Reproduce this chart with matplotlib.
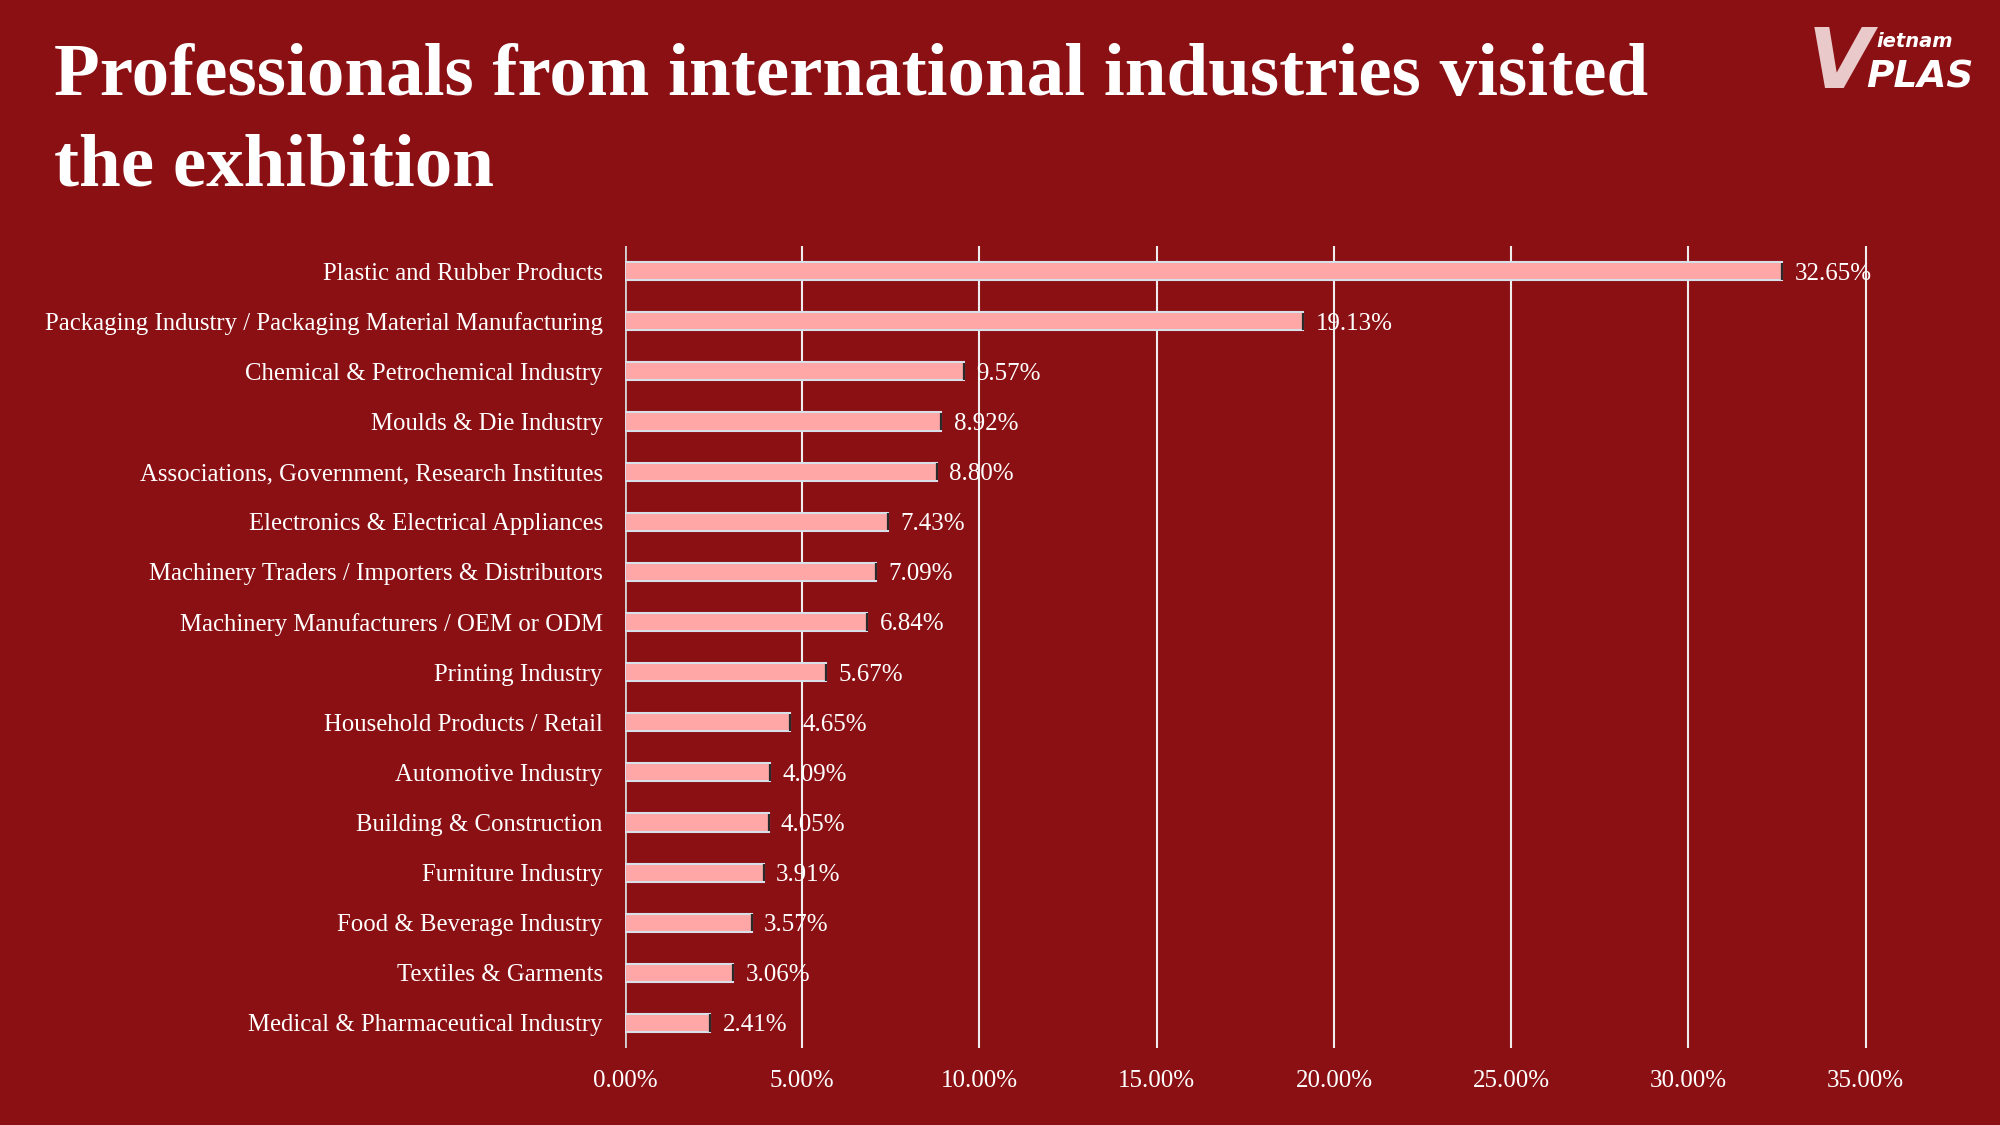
import matplotlib
matplotlib.use("Agg")
import matplotlib.pyplot as plt
from matplotlib.ticker import FuncFormatter

categories = [
    "Plastic and Rubber Products",
    "Packaging Industry / Packaging Material Manufacturing",
    "Chemical & Petrochemical Industry",
    "Moulds & Die Industry",
    "Associations, Government, Research Institutes",
    "Electronics & Electrical Appliances",
    "Machinery Traders / Importers & Distributors",
    "Machinery Manufacturers / OEM or ODM",
    "Printing Industry",
    "Household Products / Retail",
    "Automotive Industry",
    "Building & Construction",
    "Furniture Industry",
    "Food & Beverage Industry",
    "Textiles & Garments",
    "Medical & Pharmaceutical Industry",
]
values = [32.65, 19.13, 9.57, 8.92, 8.80, 7.43, 7.09, 6.84, 5.67, 4.65, 4.09, 4.05, 3.91, 3.57, 3.06, 2.41]
xticks = [0, 5, 10, 15, 20, 25, 30, 35]

BG = "#8B1014"
BAR = "#FFA6A6"
SERIF = ["Liberation Serif", "DejaVu Serif"]

fig = plt.figure(figsize=(20, 11.25), dpi=100, facecolor=BG)
ax = fig.add_axes([0.3125, 0.0684, 0.6239, 0.7129], facecolor=BG)

y = list(range(len(categories)))
ax.barh(y, values, height=0.36, color=BAR, edgecolor="#D8E0EA", linewidth=1.5, zorder=3)
ax.vlines(values, [yy - 0.17 for yy in y], [yy + 0.17 for yy in y], color="#2a2a2a", linewidth=1.6, zorder=4)

for yy, v in zip(y, values):
    ax.text(v + 0.35, yy, f"{v:.2f}%", va="center_baseline", ha="left", color="white",
            fontsize=18, family=SERIF, zorder=5)

ax.set_xlim(0, 35.2)
ax.set_ylim(len(categories) - 0.5, -0.5)
ax.set_xticks(xticks)
ax.xaxis.set_major_formatter(FuncFormatter(lambda v, p: f"{v:.2f}%"))
ax.set_yticks(y)
ax.set_yticklabels(categories)
ax.grid(axis="x", color="#EDEDED", linewidth=1.5, zorder=1)
ax.set_axisbelow(True)
for s in ax.spines.values():
    s.set_visible(False)
ax.axvline(0, color="#D0D0D0", linewidth=2, zorder=2)
ax.tick_params(axis="both", length=0, colors="white")
ax.tick_params(axis="x", pad=16, labelsize=18)
ax.tick_params(axis="y", pad=16, labelsize=17.8)
for lab in ax.get_xticklabels() + ax.get_yticklabels():
    lab.set_fontfamily(SERIF)
    lab.set_color("white")

fig.text(0.027, 1 - 95 / 1125, "Professionals from international industries visited",
         color="white", fontsize=54, fontweight="bold", family=SERIF, va="baseline", ha="left")
fig.text(0.027, 1 - 186 / 1125, "the exhibition",
         color="white", fontsize=54, fontweight="bold", family=SERIF, va="baseline", ha="left")

# logo
fig.text(1808 / 2000, 1 - 88 / 1125, "V", color="#E9C9C9", fontsize=60, fontweight="bold",
         style="italic", family="DejaVu Sans", va="baseline", ha="left")
fig.text(1876 / 2000, 1 - 47 / 1125, "ietnam", color="white", fontsize=14, fontweight="bold",
         style="italic", family="DejaVu Sans", va="baseline", ha="left")
fig.text(1866 / 2000, 1 - 88 / 1125, "PLAS", color="white", fontsize=27, fontweight="bold",
         style="italic", family="DejaVu Sans", va="baseline", ha="left")

fig.savefig("out.png", dpi=100, facecolor=BG)
